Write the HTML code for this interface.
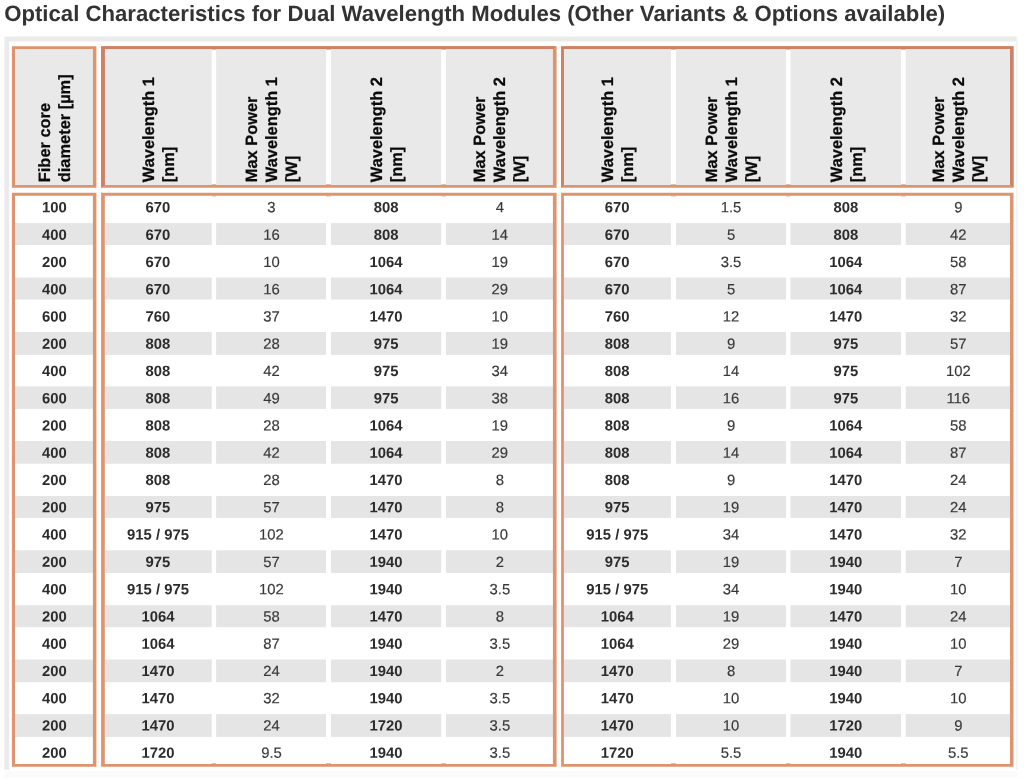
<!DOCTYPE html>
<html lang="en">
<head>
<meta charset="utf-8">
<title>Optical Characteristics for Dual Wavelength Modules</title>
<style>
html,body{margin:0;padding:0;background:#fff;}
body{width:1024px;height:779px;overflow:hidden;position:relative;font-family:"Liberation Sans",sans-serif;}
svg{position:absolute;left:0;top:0;display:block;}
svg text{font-family:"Liberation Sans",sans-serif;text-rendering:geometricPrecision;}
.t{font-weight:bold;fill:#333;}
.h{font-weight:bold;fill:#0a0a0a;stroke:#0a0a0a;stroke-width:0.25px;}
.b{font-weight:bold;fill:#2c2c2c;text-anchor:middle;}
.n{font-weight:normal;fill:#383838;stroke:#383838;stroke-width:0.15px;text-anchor:middle;}
</style>
</head>
<body>
<svg width="1024" height="779" viewBox="0 0 1024 779">
<text class="t" x="4.2" y="20.8" font-size="22.17" letter-spacing="0" role="heading">Optical Characteristics for Dual Wavelength Modules (Other Variants &amp; Options available)</text>
<g>
<path fill="#ebebeb" d="M4.4 36.6H1016.4V41.6H9.2V769.8H4.4Z"/>
<rect x="1016.3" y="36.6" width="1.3" height="733.2" fill="#f0f0f0"/>
<rect x="4.5" y="771.2" width="1013" height="6.7" fill="#fbfbfb"/>
</g>
<g fill="#e9e9e9">
<rect x="15" y="49" width="77.9" height="136"/>
<rect x="104.8" y="49" width="106.95" height="136"/>
<rect x="216.1" y="49" width="109.9" height="136"/>
<rect x="331" y="49" width="110.25" height="136"/>
<rect x="446" y="49" width="106.9" height="136"/>
<rect x="563.9" y="49" width="107.1" height="136"/>
<rect x="676" y="49" width="110" height="136"/>
<rect x="790.5" y="49" width="110.5" height="136"/>
<rect x="905.75" y="49" width="104.25" height="136"/>
</g>
<g fill="#e5e5e5">
<rect x="15" y="223.1" width="77.9" height="21.85"/>
<rect x="104.8" y="223.1" width="106.95" height="21.85"/>
<rect x="216.1" y="223.1" width="109.9" height="21.85"/>
<rect x="331" y="223.1" width="110.25" height="21.85"/>
<rect x="446" y="223.1" width="106.9" height="21.85"/>
<rect x="563.9" y="223.1" width="107.1" height="21.85"/>
<rect x="676" y="223.1" width="110" height="21.85"/>
<rect x="790.5" y="223.1" width="110.5" height="21.85"/>
<rect x="905.75" y="223.1" width="104.25" height="21.85"/>
<rect x="15" y="277.5" width="77.9" height="22"/>
<rect x="104.8" y="277.5" width="106.95" height="22"/>
<rect x="216.1" y="277.5" width="109.9" height="22"/>
<rect x="331" y="277.5" width="110.25" height="22"/>
<rect x="446" y="277.5" width="106.9" height="22"/>
<rect x="563.9" y="277.5" width="107.1" height="22"/>
<rect x="676" y="277.5" width="110" height="22"/>
<rect x="790.5" y="277.5" width="110.5" height="22"/>
<rect x="905.75" y="277.5" width="104.25" height="22"/>
<rect x="15" y="332" width="77.9" height="22.9"/>
<rect x="104.8" y="332" width="106.95" height="22.9"/>
<rect x="216.1" y="332" width="109.9" height="22.9"/>
<rect x="331" y="332" width="110.25" height="22.9"/>
<rect x="446" y="332" width="106.9" height="22.9"/>
<rect x="563.9" y="332" width="107.1" height="22.9"/>
<rect x="676" y="332" width="110" height="22.9"/>
<rect x="790.5" y="332" width="110.5" height="22.9"/>
<rect x="905.75" y="332" width="104.25" height="22.9"/>
<rect x="15" y="386.35" width="77.9" height="22.55"/>
<rect x="104.8" y="386.35" width="106.95" height="22.55"/>
<rect x="216.1" y="386.35" width="109.9" height="22.55"/>
<rect x="331" y="386.35" width="110.25" height="22.55"/>
<rect x="446" y="386.35" width="106.9" height="22.55"/>
<rect x="563.9" y="386.35" width="107.1" height="22.55"/>
<rect x="676" y="386.35" width="110" height="22.55"/>
<rect x="790.5" y="386.35" width="110.5" height="22.55"/>
<rect x="905.75" y="386.35" width="104.25" height="22.55"/>
<rect x="15" y="441" width="77.9" height="22.75"/>
<rect x="104.8" y="441" width="106.95" height="22.75"/>
<rect x="216.1" y="441" width="109.9" height="22.75"/>
<rect x="331" y="441" width="110.25" height="22.75"/>
<rect x="446" y="441" width="106.9" height="22.75"/>
<rect x="563.9" y="441" width="107.1" height="22.75"/>
<rect x="676" y="441" width="110" height="22.75"/>
<rect x="790.5" y="441" width="110.5" height="22.75"/>
<rect x="905.75" y="441" width="104.25" height="22.75"/>
<rect x="15" y="496" width="77.9" height="21.95"/>
<rect x="104.8" y="496" width="106.95" height="21.95"/>
<rect x="216.1" y="496" width="109.9" height="21.95"/>
<rect x="331" y="496" width="110.25" height="21.95"/>
<rect x="446" y="496" width="106.9" height="21.95"/>
<rect x="563.9" y="496" width="107.1" height="21.95"/>
<rect x="676" y="496" width="110" height="21.95"/>
<rect x="790.5" y="496" width="110.5" height="21.95"/>
<rect x="905.75" y="496" width="104.25" height="21.95"/>
<rect x="15" y="550.3" width="77.9" height="22.65"/>
<rect x="104.8" y="550.3" width="106.95" height="22.65"/>
<rect x="216.1" y="550.3" width="109.9" height="22.65"/>
<rect x="331" y="550.3" width="110.25" height="22.65"/>
<rect x="446" y="550.3" width="106.9" height="22.65"/>
<rect x="563.9" y="550.3" width="107.1" height="22.65"/>
<rect x="676" y="550.3" width="110" height="22.65"/>
<rect x="790.5" y="550.3" width="110.5" height="22.65"/>
<rect x="905.75" y="550.3" width="104.25" height="22.65"/>
<rect x="15" y="605.2" width="77.9" height="21.95"/>
<rect x="104.8" y="605.2" width="106.95" height="21.95"/>
<rect x="216.1" y="605.2" width="109.9" height="21.95"/>
<rect x="331" y="605.2" width="110.25" height="21.95"/>
<rect x="446" y="605.2" width="106.9" height="21.95"/>
<rect x="563.9" y="605.2" width="107.1" height="21.95"/>
<rect x="676" y="605.2" width="110" height="21.95"/>
<rect x="790.5" y="605.2" width="110.5" height="21.95"/>
<rect x="905.75" y="605.2" width="104.25" height="21.95"/>
<rect x="15" y="659.5" width="77.9" height="22.75"/>
<rect x="104.8" y="659.5" width="106.95" height="22.75"/>
<rect x="216.1" y="659.5" width="109.9" height="22.75"/>
<rect x="331" y="659.5" width="110.25" height="22.75"/>
<rect x="446" y="659.5" width="106.9" height="22.75"/>
<rect x="563.9" y="659.5" width="107.1" height="22.75"/>
<rect x="676" y="659.5" width="110" height="22.75"/>
<rect x="790.5" y="659.5" width="110.5" height="22.75"/>
<rect x="905.75" y="659.5" width="104.25" height="22.75"/>
<rect x="15" y="714.1" width="77.9" height="22.8"/>
<rect x="104.8" y="714.1" width="106.95" height="22.8"/>
<rect x="216.1" y="714.1" width="109.9" height="22.8"/>
<rect x="331" y="714.1" width="110.25" height="22.8"/>
<rect x="446" y="714.1" width="106.9" height="22.8"/>
<rect x="563.9" y="714.1" width="107.1" height="22.8"/>
<rect x="676" y="714.1" width="110" height="22.8"/>
<rect x="790.5" y="714.1" width="110.5" height="22.8"/>
<rect x="905.75" y="714.1" width="104.25" height="22.8"/>
</g>
<g>
<path fill-rule="evenodd" fill="#de946e" d="M11.9 46.2H96.4V187.85H11.9ZM15 49H92.9V185H15Z"/>
<path fill-rule="evenodd" fill="#de946e" d="M101.1 46.2H556.6V187.85H101.1ZM104.8 49H552.9V185H104.8Z"/>
<path fill="#ce8165" d="M101.1 46.2L104.8 49L104.8 185L101.1 187.85Z"/>
<path fill="#ce8165" d="M101.1 46.2H556.6L552.9 49H104.8Z"/>
<path fill-rule="evenodd" fill="#de946e" d="M561.1 46.2H1013.5V187.85H561.1ZM563.9 49H1010V185H563.9Z"/>
<path fill="#ce8165" d="M561.1 46.2L563.9 49L563.9 185L561.1 187.85Z"/>
<path fill="#ce8165" d="M561.1 46.2H1013.5L1010 49H563.9Z"/>
<path fill="#ce8165" d="M1013.5 46.2L1013.5 187.85L1010 185L1010 49Z"/>
<path fill-rule="evenodd" fill="#de946e" d="M11.9 192.7H96.4V766.7H11.9ZM15 195.65H92.9V763.9H15Z"/>
<path fill-rule="evenodd" fill="#de946e" d="M101.1 192.7H556.6V766.7H101.1ZM104.8 195.65H552.9V763.9H104.8Z"/>
<path fill-rule="evenodd" fill="#de946e" d="M561.1 192.7H1013.5V766.7H561.1ZM563.9 195.65H1010V763.9H563.9Z"/>
</g>
<g fill="#de946e" fill-opacity="0.8">
<rect x="211.75" y="49" width="4.35" height="0.8"/>
<rect x="211.75" y="184.2" width="4.35" height="0.8"/>
<rect x="211.75" y="195.65" width="4.35" height="0.8"/>
<rect x="211.75" y="763.1" width="4.35" height="0.8"/>
<rect x="326" y="49" width="5" height="0.8"/>
<rect x="326" y="184.2" width="5" height="0.8"/>
<rect x="326" y="195.65" width="5" height="0.8"/>
<rect x="326" y="763.1" width="5" height="0.8"/>
<rect x="441.25" y="49" width="4.75" height="0.8"/>
<rect x="441.25" y="184.2" width="4.75" height="0.8"/>
<rect x="441.25" y="195.65" width="4.75" height="0.8"/>
<rect x="441.25" y="763.1" width="4.75" height="0.8"/>
<rect x="671" y="49" width="5" height="0.8"/>
<rect x="671" y="184.2" width="5" height="0.8"/>
<rect x="671" y="195.65" width="5" height="0.8"/>
<rect x="671" y="763.1" width="5" height="0.8"/>
<rect x="786" y="49" width="4.5" height="0.8"/>
<rect x="786" y="184.2" width="4.5" height="0.8"/>
<rect x="786" y="195.65" width="4.5" height="0.8"/>
<rect x="786" y="763.1" width="4.5" height="0.8"/>
<rect x="901" y="49" width="4.75" height="0.8"/>
<rect x="901" y="184.2" width="4.75" height="0.8"/>
<rect x="901" y="195.65" width="4.75" height="0.8"/>
<rect x="901" y="763.1" width="4.75" height="0.8"/>
</g>
<g font-size="16.4">
<text class="h" transform="translate(50.25 182.2) rotate(-90)">Fiber core</text>
<text class="h" transform="translate(70.25 182.2) rotate(-90)">diameter [µm]</text>
<text class="h" transform="translate(153.58 182.2) rotate(-90)">Wavelength 1</text>
<text class="h" transform="translate(173.58 182.2) rotate(-90)">[nm]</text>
<text class="h" transform="translate(257.15 182.2) rotate(-90)">Max Power</text>
<text class="h" transform="translate(277.15 182.2) rotate(-90)">Wavelength 1</text>
<text class="h" transform="translate(297.15 182.2) rotate(-90)">[W]</text>
<text class="h" transform="translate(382.43 182.2) rotate(-90)">Wavelength 2</text>
<text class="h" transform="translate(402.43 182.2) rotate(-90)">[nm]</text>
<text class="h" transform="translate(485.25 182.2) rotate(-90)">Max Power</text>
<text class="h" transform="translate(505.25 182.2) rotate(-90)">Wavelength 2</text>
<text class="h" transform="translate(525.25 182.2) rotate(-90)">[W]</text>
<text class="h" transform="translate(612.9 182.2) rotate(-90)">Wavelength 1</text>
<text class="h" transform="translate(632.9 182.2) rotate(-90)">[nm]</text>
<text class="h" transform="translate(717.3 182.2) rotate(-90)">Max Power</text>
<text class="h" transform="translate(737.3 182.2) rotate(-90)">Wavelength 1</text>
<text class="h" transform="translate(757.3 182.2) rotate(-90)">[W]</text>
<text class="h" transform="translate(841.7 182.2) rotate(-90)">Wavelength 2</text>
<text class="h" transform="translate(861.7 182.2) rotate(-90)">[nm]</text>
<text class="h" transform="translate(944.17 182.2) rotate(-90)">Max Power</text>
<text class="h" transform="translate(964.17 182.2) rotate(-90)">Wavelength 2</text>
<text class="h" transform="translate(984.17 182.2) rotate(-90)">[W]</text>
</g>
<g font-size="14.85" letter-spacing="0">
<text class="b" transform="translate(54.35 212.14) rotate(0.03)">100</text>
<text class="b" transform="translate(157.98 212.14) rotate(0.03)">670</text>
<text class="n" transform="translate(271.45 212.14) rotate(0.03)">3</text>
<text class="b" transform="translate(386.07 212.14) rotate(0.03)">808</text>
<text class="n" transform="translate(499.85 212.14) rotate(0.03)">4</text>
<text class="b" transform="translate(617.25 212.14) rotate(0.03)">670</text>
<text class="n" transform="translate(731 212.14) rotate(0.03)">1.5</text>
<text class="b" transform="translate(845.85 212.14) rotate(0.03)">808</text>
<text class="n" transform="translate(958.27 212.14) rotate(0.03)">9</text>
<text class="b" transform="translate(54.35 239.7) rotate(0.03)">400</text>
<text class="b" transform="translate(157.98 239.7) rotate(0.03)">670</text>
<text class="n" transform="translate(271.45 239.7) rotate(0.03)">16</text>
<text class="b" transform="translate(386.07 239.7) rotate(0.03)">808</text>
<text class="n" transform="translate(499.85 239.7) rotate(0.03)">14</text>
<text class="b" transform="translate(617.25 239.7) rotate(0.03)">670</text>
<text class="n" transform="translate(731 239.7) rotate(0.03)">5</text>
<text class="b" transform="translate(845.85 239.7) rotate(0.03)">808</text>
<text class="n" transform="translate(958.27 239.7) rotate(0.03)">42</text>
<text class="b" transform="translate(54.35 266.97) rotate(0.03)">200</text>
<text class="b" transform="translate(157.98 266.97) rotate(0.03)">670</text>
<text class="n" transform="translate(271.45 266.97) rotate(0.03)">10</text>
<text class="b" transform="translate(386.07 266.97) rotate(0.03)">1064</text>
<text class="n" transform="translate(499.85 266.97) rotate(0.03)">19</text>
<text class="b" transform="translate(617.25 266.97) rotate(0.03)">670</text>
<text class="n" transform="translate(731 266.97) rotate(0.03)">3.5</text>
<text class="b" transform="translate(845.85 266.97) rotate(0.03)">1064</text>
<text class="n" transform="translate(958.27 266.97) rotate(0.03)">58</text>
<text class="b" transform="translate(54.35 294.23) rotate(0.03)">400</text>
<text class="b" transform="translate(157.98 294.23) rotate(0.03)">670</text>
<text class="n" transform="translate(271.45 294.23) rotate(0.03)">16</text>
<text class="b" transform="translate(386.07 294.23) rotate(0.03)">1064</text>
<text class="n" transform="translate(499.85 294.23) rotate(0.03)">29</text>
<text class="b" transform="translate(617.25 294.23) rotate(0.03)">670</text>
<text class="n" transform="translate(731 294.23) rotate(0.03)">5</text>
<text class="b" transform="translate(845.85 294.23) rotate(0.03)">1064</text>
<text class="n" transform="translate(958.27 294.23) rotate(0.03)">87</text>
<text class="b" transform="translate(54.35 321.5) rotate(0.03)">600</text>
<text class="b" transform="translate(157.98 321.5) rotate(0.03)">760</text>
<text class="n" transform="translate(271.45 321.5) rotate(0.03)">37</text>
<text class="b" transform="translate(386.07 321.5) rotate(0.03)">1470</text>
<text class="n" transform="translate(499.85 321.5) rotate(0.03)">10</text>
<text class="b" transform="translate(617.25 321.5) rotate(0.03)">760</text>
<text class="n" transform="translate(731 321.5) rotate(0.03)">12</text>
<text class="b" transform="translate(845.85 321.5) rotate(0.03)">1470</text>
<text class="n" transform="translate(958.27 321.5) rotate(0.03)">32</text>
<text class="b" transform="translate(54.35 348.76) rotate(0.03)">200</text>
<text class="b" transform="translate(157.98 348.76) rotate(0.03)">808</text>
<text class="n" transform="translate(271.45 348.76) rotate(0.03)">28</text>
<text class="b" transform="translate(386.07 348.76) rotate(0.03)">975</text>
<text class="n" transform="translate(499.85 348.76) rotate(0.03)">19</text>
<text class="b" transform="translate(617.25 348.76) rotate(0.03)">808</text>
<text class="n" transform="translate(731 348.76) rotate(0.03)">9</text>
<text class="b" transform="translate(845.85 348.76) rotate(0.03)">975</text>
<text class="n" transform="translate(958.27 348.76) rotate(0.03)">57</text>
<text class="b" transform="translate(54.35 376.02) rotate(0.03)">400</text>
<text class="b" transform="translate(157.98 376.02) rotate(0.03)">808</text>
<text class="n" transform="translate(271.45 376.02) rotate(0.03)">42</text>
<text class="b" transform="translate(386.07 376.02) rotate(0.03)">975</text>
<text class="n" transform="translate(499.85 376.02) rotate(0.03)">34</text>
<text class="b" transform="translate(617.25 376.02) rotate(0.03)">808</text>
<text class="n" transform="translate(731 376.02) rotate(0.03)">14</text>
<text class="b" transform="translate(845.85 376.02) rotate(0.03)">975</text>
<text class="n" transform="translate(958.27 376.02) rotate(0.03)">102</text>
<text class="b" transform="translate(54.35 403.29) rotate(0.03)">600</text>
<text class="b" transform="translate(157.98 403.29) rotate(0.03)">808</text>
<text class="n" transform="translate(271.45 403.29) rotate(0.03)">49</text>
<text class="b" transform="translate(386.07 403.29) rotate(0.03)">975</text>
<text class="n" transform="translate(499.85 403.29) rotate(0.03)">38</text>
<text class="b" transform="translate(617.25 403.29) rotate(0.03)">808</text>
<text class="n" transform="translate(731 403.29) rotate(0.03)">16</text>
<text class="b" transform="translate(845.85 403.29) rotate(0.03)">975</text>
<text class="n" transform="translate(958.27 403.29) rotate(0.03)">116</text>
<text class="b" transform="translate(54.35 430.56) rotate(0.03)">200</text>
<text class="b" transform="translate(157.98 430.56) rotate(0.03)">808</text>
<text class="n" transform="translate(271.45 430.56) rotate(0.03)">28</text>
<text class="b" transform="translate(386.07 430.56) rotate(0.03)">1064</text>
<text class="n" transform="translate(499.85 430.56) rotate(0.03)">19</text>
<text class="b" transform="translate(617.25 430.56) rotate(0.03)">808</text>
<text class="n" transform="translate(731 430.56) rotate(0.03)">9</text>
<text class="b" transform="translate(845.85 430.56) rotate(0.03)">1064</text>
<text class="n" transform="translate(958.27 430.56) rotate(0.03)">58</text>
<text class="b" transform="translate(54.35 457.82) rotate(0.03)">400</text>
<text class="b" transform="translate(157.98 457.82) rotate(0.03)">808</text>
<text class="n" transform="translate(271.45 457.82) rotate(0.03)">42</text>
<text class="b" transform="translate(386.07 457.82) rotate(0.03)">1064</text>
<text class="n" transform="translate(499.85 457.82) rotate(0.03)">29</text>
<text class="b" transform="translate(617.25 457.82) rotate(0.03)">808</text>
<text class="n" transform="translate(731 457.82) rotate(0.03)">14</text>
<text class="b" transform="translate(845.85 457.82) rotate(0.03)">1064</text>
<text class="n" transform="translate(958.27 457.82) rotate(0.03)">87</text>
<text class="b" transform="translate(54.35 485.08) rotate(0.03)">200</text>
<text class="b" transform="translate(157.98 485.08) rotate(0.03)">808</text>
<text class="n" transform="translate(271.45 485.08) rotate(0.03)">28</text>
<text class="b" transform="translate(386.07 485.08) rotate(0.03)">1470</text>
<text class="n" transform="translate(499.85 485.08) rotate(0.03)">8</text>
<text class="b" transform="translate(617.25 485.08) rotate(0.03)">808</text>
<text class="n" transform="translate(731 485.08) rotate(0.03)">9</text>
<text class="b" transform="translate(845.85 485.08) rotate(0.03)">1470</text>
<text class="n" transform="translate(958.27 485.08) rotate(0.03)">24</text>
<text class="b" transform="translate(54.35 512.35) rotate(0.03)">200</text>
<text class="b" transform="translate(157.98 512.35) rotate(0.03)">975</text>
<text class="n" transform="translate(271.45 512.35) rotate(0.03)">57</text>
<text class="b" transform="translate(386.07 512.35) rotate(0.03)">1470</text>
<text class="n" transform="translate(499.85 512.35) rotate(0.03)">8</text>
<text class="b" transform="translate(617.25 512.35) rotate(0.03)">975</text>
<text class="n" transform="translate(731 512.35) rotate(0.03)">19</text>
<text class="b" transform="translate(845.85 512.35) rotate(0.03)">1470</text>
<text class="n" transform="translate(958.27 512.35) rotate(0.03)">24</text>
<text class="b" transform="translate(54.35 539.62) rotate(0.03)">400</text>
<text class="b" transform="translate(157.98 539.62) rotate(0.03)">915 / 975</text>
<text class="n" transform="translate(271.45 539.62) rotate(0.03)">102</text>
<text class="b" transform="translate(386.07 539.62) rotate(0.03)">1470</text>
<text class="n" transform="translate(499.85 539.62) rotate(0.03)">10</text>
<text class="b" transform="translate(617.25 539.62) rotate(0.03)">915 / 975</text>
<text class="n" transform="translate(731 539.62) rotate(0.03)">34</text>
<text class="b" transform="translate(845.85 539.62) rotate(0.03)">1470</text>
<text class="n" transform="translate(958.27 539.62) rotate(0.03)">32</text>
<text class="b" transform="translate(54.35 566.88) rotate(0.03)">200</text>
<text class="b" transform="translate(157.98 566.88) rotate(0.03)">975</text>
<text class="n" transform="translate(271.45 566.88) rotate(0.03)">57</text>
<text class="b" transform="translate(386.07 566.88) rotate(0.03)">1940</text>
<text class="n" transform="translate(499.85 566.88) rotate(0.03)">2</text>
<text class="b" transform="translate(617.25 566.88) rotate(0.03)">975</text>
<text class="n" transform="translate(731 566.88) rotate(0.03)">19</text>
<text class="b" transform="translate(845.85 566.88) rotate(0.03)">1940</text>
<text class="n" transform="translate(958.27 566.88) rotate(0.03)">7</text>
<text class="b" transform="translate(54.35 594.15) rotate(0.03)">400</text>
<text class="b" transform="translate(157.98 594.15) rotate(0.03)">915 / 975</text>
<text class="n" transform="translate(271.45 594.15) rotate(0.03)">102</text>
<text class="b" transform="translate(386.07 594.15) rotate(0.03)">1940</text>
<text class="n" transform="translate(499.85 594.15) rotate(0.03)">3.5</text>
<text class="b" transform="translate(617.25 594.15) rotate(0.03)">915 / 975</text>
<text class="n" transform="translate(731 594.15) rotate(0.03)">34</text>
<text class="b" transform="translate(845.85 594.15) rotate(0.03)">1940</text>
<text class="n" transform="translate(958.27 594.15) rotate(0.03)">10</text>
<text class="b" transform="translate(54.35 621.41) rotate(0.03)">200</text>
<text class="b" transform="translate(157.98 621.41) rotate(0.03)">1064</text>
<text class="n" transform="translate(271.45 621.41) rotate(0.03)">58</text>
<text class="b" transform="translate(386.07 621.41) rotate(0.03)">1470</text>
<text class="n" transform="translate(499.85 621.41) rotate(0.03)">8</text>
<text class="b" transform="translate(617.25 621.41) rotate(0.03)">1064</text>
<text class="n" transform="translate(731 621.41) rotate(0.03)">19</text>
<text class="b" transform="translate(845.85 621.41) rotate(0.03)">1470</text>
<text class="n" transform="translate(958.27 621.41) rotate(0.03)">24</text>
<text class="b" transform="translate(54.35 648.68) rotate(0.03)">400</text>
<text class="b" transform="translate(157.98 648.68) rotate(0.03)">1064</text>
<text class="n" transform="translate(271.45 648.68) rotate(0.03)">87</text>
<text class="b" transform="translate(386.07 648.68) rotate(0.03)">1940</text>
<text class="n" transform="translate(499.85 648.68) rotate(0.03)">3.5</text>
<text class="b" transform="translate(617.25 648.68) rotate(0.03)">1064</text>
<text class="n" transform="translate(731 648.68) rotate(0.03)">29</text>
<text class="b" transform="translate(845.85 648.68) rotate(0.03)">1940</text>
<text class="n" transform="translate(958.27 648.68) rotate(0.03)">10</text>
<text class="b" transform="translate(54.35 675.94) rotate(0.03)">200</text>
<text class="b" transform="translate(157.98 675.94) rotate(0.03)">1470</text>
<text class="n" transform="translate(271.45 675.94) rotate(0.03)">24</text>
<text class="b" transform="translate(386.07 675.94) rotate(0.03)">1940</text>
<text class="n" transform="translate(499.85 675.94) rotate(0.03)">2</text>
<text class="b" transform="translate(617.25 675.94) rotate(0.03)">1470</text>
<text class="n" transform="translate(731 675.94) rotate(0.03)">8</text>
<text class="b" transform="translate(845.85 675.94) rotate(0.03)">1940</text>
<text class="n" transform="translate(958.27 675.94) rotate(0.03)">7</text>
<text class="b" transform="translate(54.35 703.21) rotate(0.03)">400</text>
<text class="b" transform="translate(157.98 703.21) rotate(0.03)">1470</text>
<text class="n" transform="translate(271.45 703.21) rotate(0.03)">32</text>
<text class="b" transform="translate(386.07 703.21) rotate(0.03)">1940</text>
<text class="n" transform="translate(499.85 703.21) rotate(0.03)">3.5</text>
<text class="b" transform="translate(617.25 703.21) rotate(0.03)">1470</text>
<text class="n" transform="translate(731 703.21) rotate(0.03)">10</text>
<text class="b" transform="translate(845.85 703.21) rotate(0.03)">1940</text>
<text class="n" transform="translate(958.27 703.21) rotate(0.03)">10</text>
<text class="b" transform="translate(54.35 730.47) rotate(0.03)">200</text>
<text class="b" transform="translate(157.98 730.47) rotate(0.03)">1470</text>
<text class="n" transform="translate(271.45 730.47) rotate(0.03)">24</text>
<text class="b" transform="translate(386.07 730.47) rotate(0.03)">1720</text>
<text class="n" transform="translate(499.85 730.47) rotate(0.03)">3.5</text>
<text class="b" transform="translate(617.25 730.47) rotate(0.03)">1470</text>
<text class="n" transform="translate(731 730.47) rotate(0.03)">10</text>
<text class="b" transform="translate(845.85 730.47) rotate(0.03)">1720</text>
<text class="n" transform="translate(958.27 730.47) rotate(0.03)">9</text>
<text class="b" transform="translate(54.35 757.74) rotate(0.03)">200</text>
<text class="b" transform="translate(157.98 757.74) rotate(0.03)">1720</text>
<text class="n" transform="translate(271.45 757.74) rotate(0.03)">9.5</text>
<text class="b" transform="translate(386.07 757.74) rotate(0.03)">1940</text>
<text class="n" transform="translate(499.85 757.74) rotate(0.03)">3.5</text>
<text class="b" transform="translate(617.25 757.74) rotate(0.03)">1720</text>
<text class="n" transform="translate(731 757.74) rotate(0.03)">5.5</text>
<text class="b" transform="translate(845.85 757.74) rotate(0.03)">1940</text>
<text class="n" transform="translate(958.27 757.74) rotate(0.03)">5.5</text>
</g>
</svg>
</body>
</html>
